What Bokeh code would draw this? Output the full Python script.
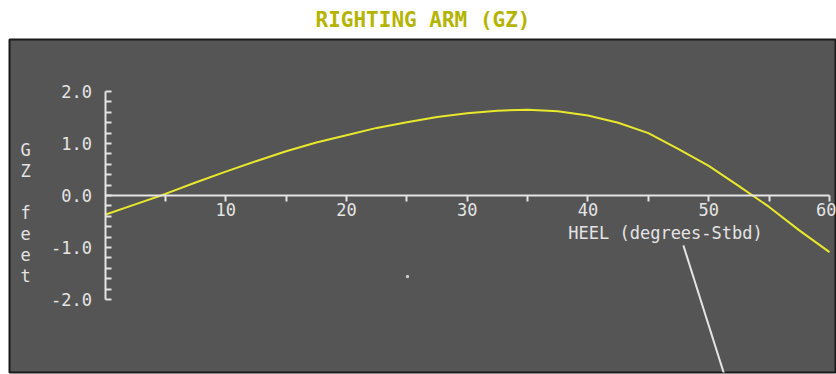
from bokeh.plotting import figure
from bokeh.models import Range1d, FixedTicker, PrintfTickFormatter, Label
from bokeh.embed import file_html
from bokeh.resources import INLINE

# Righting arm curve: heel angle (degrees to starboard) vs GZ (feet)
heel_deg = [0, 2.5, 5, 7.5, 10, 12.5, 15, 17.5, 20, 22.5, 25, 27.5, 30, 32.5, 35,
            37.5, 40, 42.5, 45, 47.5, 50, 52.5, 55, 57.5, 60]
gz_feet = [-0.37, -0.17, 0.03, 0.25, 0.46, 0.66, 0.85, 1.02, 1.16, 1.30, 1.41, 1.51, 1.58, 1.63, 1.65,
           1.62, 1.54, 1.40, 1.20, 0.89, 0.57, 0.18, -0.22, -0.67, -1.09]

x_ticks = [10, 20, 30, 40, 50, 60]
x_minor = [5, 15, 25, 35, 45, 55]
y_ticks = [-2, -1, 0, 1, 2]
y_minor = [-1.8, -1.6, -1.4, -1.2, -0.8, -0.6, -0.4, -0.2,
           0.2, 0.4, 0.6, 0.8, 1.2, 1.4, 1.6, 1.8]

# leader line and speck on the display
pointer_x = [47.9, 51.5]
pointer_y = [-0.96, -3.6]
speck_x = [25.05]
speck_y = [-1.56]

FONT = "DejaVu Sans Mono"
INK = "#e4e4e4"

p = figure(width=836, height=374, output_backend="svg", toolbar_location=None,
           x_range=Range1d(-7.909, 60.58), y_range=Range1d(-3.404, 3.0),
           min_border_left=9, min_border_right=0, min_border_top=39, min_border_bottom=2,
           background_fill_color="#555555", border_fill_color="white",
           outline_line_color="#1a1a1a", outline_line_width=2)
p.grid.visible = False

p.title.text = "RIGHTING ARM (GZ)"
p.title.align = "center"
p.title.vertical_align = "top"
p.title.offset = -7
p.title.standoff = 12
p.title.text_font = FONT
p.title.text_font_style = "bold"
p.title.text_font_size = "21px"
p.title.text_color = "#b4b400"

xa = p.xaxis[0]
xa.fixed_location = 0
xa.bounds = (0, 60)
xa.ticker = FixedTicker(ticks=x_ticks, minor_ticks=x_minor)
ya = p.yaxis[0]
ya.fixed_location = 0
ya.bounds = (-2, 2)
ya.ticker = FixedTicker(ticks=y_ticks, minor_ticks=y_minor)
ya.formatter = PrintfTickFormatter(format="%.1f")

for ax in (xa, ya):
    ax.axis_line_color = INK
    ax.axis_line_width = 2
    ax.major_tick_line_color = INK
    ax.minor_tick_line_color = INK
    ax.major_tick_line_width = 2
    ax.minor_tick_line_width = 2
    ax.major_label_text_font = FONT
    ax.major_label_text_font_size = "17px"
    ax.major_label_text_color = INK

xa.major_tick_in = 0
xa.major_tick_out = 6
xa.minor_tick_in = 0
xa.minor_tick_out = 6
xa.major_label_standoff = 2
ya.major_tick_in = 6
ya.major_tick_out = 0
ya.minor_tick_in = 6
ya.minor_tick_out = 0
ya.major_label_standoff = 13

p.line(heel_deg, gz_feet, line_color="#e8e82c", line_width=2)
p.line(pointer_x, pointer_y, line_color=INK, line_width=2)
p.scatter(speck_x, speck_y, marker="square", size=2, color="#cfcfcf")

p.add_layout(Label(x=46.42, y=-0.725, text="HEEL (degrees-Stbd)", text_align="center",
                   text_baseline="middle", text_font=FONT, text_font_size="17px",
                   text_color=INK))
p.add_layout(Label(x=-6.58, y=-0.346, text="G\nZ\n\nf\ne\ne\nt", text_align="center",
                   text_baseline="middle", text_font=FONT, text_font_size="17px",
                   text_line_height=1.05, text_color=INK))

open("out.html", "w").write(file_html(p, INLINE))
